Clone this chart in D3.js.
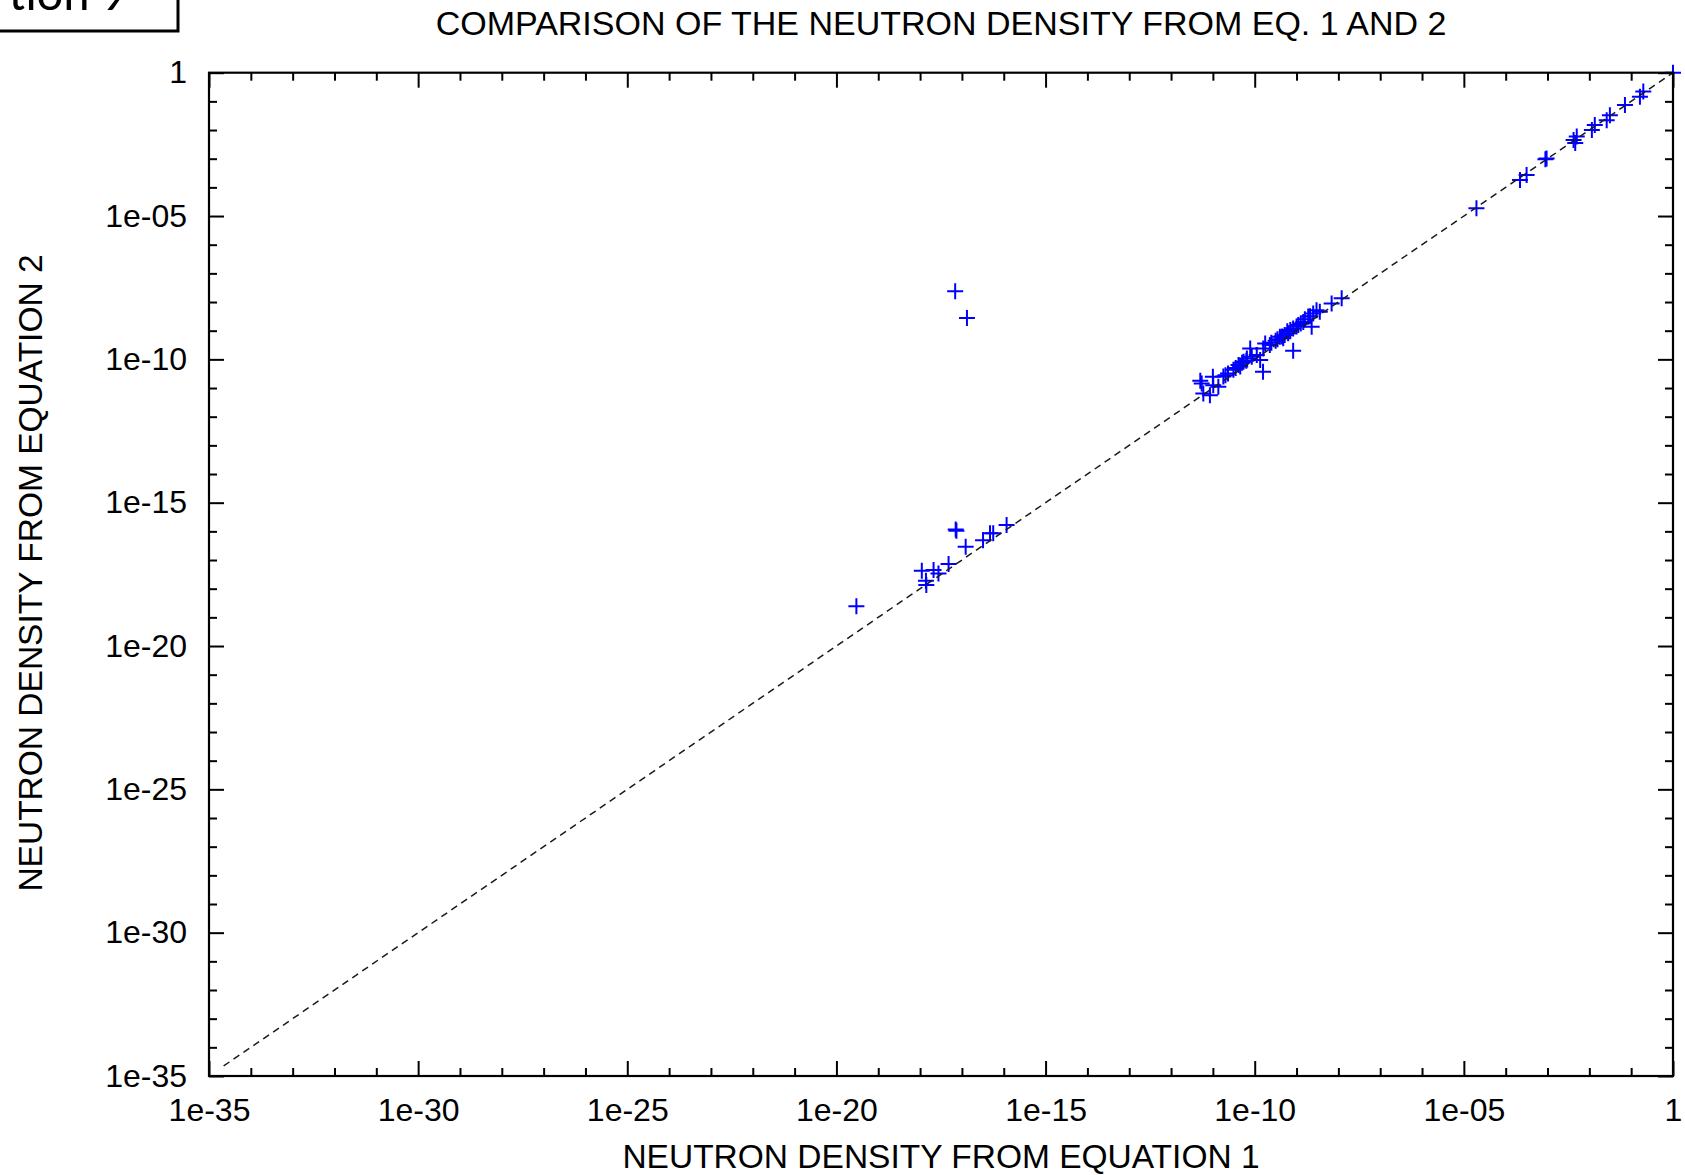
<!DOCTYPE html>
<html>
<head>
<meta charset="utf-8">
<script src="https://cdn.jsdelivr.net/npm/d3@7"></script>
<style>
  html, body { margin: 0; padding: 0; background: #fff; }
  svg { display: block; }
  text { font-family: "Liberation Sans", Arial, Helvetica, sans-serif; fill: #000; }
</style>
</head>
<body>
<svg id="chart" width="1685" height="1175"></svg>
<script>
// Neutron density computed from equation 1 (x) and equation 2 (y)
const neutronDensityEq1 = [
  // high-density group
  1, 1.95e-1, 1.62e-1, 7.1e-2, 3.1e-2, 2.6e-2, 1.35e-2, 1.15e-2, 5.0e-3, 4.2e-3, 4.6e-3,
  9.5e-4, 8.9e-4, 3.16e-4, 2.2e-4, 2.0e-5,
  // main cluster
  5.4e-12, 1.0e-11, 5.9e-12, 8.5e-12, 1.02e-11, 1.35e-11, 2.3e-11, 3.1e-11, 4.1e-11, 5.4e-11,
  6.5e-11, 7.8e-11, 8.5e-11, 1.12e-10, 1.35e-10, 1.58e-10, 1.78e-10, 1.6e-10, 2.3e-10, 4.0e-10,
  5.2e-10, 6.3e-10, 8.3e-10, 4.8e-10, 8.3e-10, 1.1e-9, 1.45e-9, 2.3e-9, 1.9e-9, 2.5e-9,
  3.0e-9, 3.6e-9, 6.9e-9, 1.2e-8, 1.78e-11, 2.0e-11, 3.5e-11, 4.5e-11, 5.0e-11, 6.3e-11,
  3.16e-10, 4.5e-10, 6.0e-10, 7.1e-10, 1.0e-9, 1.26e-9, 1.58e-9, 2.1e-9, 3.5e-10, 2.5e-10,
  5.0e-12,
  // low-density group
  3.0e-20, 7.1e-18, 7.4e-18, 1.23e-17, 1.1e-18, 1.38e-18, 1.41e-18, 2.1e-18, 2.75e-18, 4.8e-18,
  3.2e-17, 4.7e-17, 5.6e-17, 1.17e-16,
  // outliers
  6.9e-18, 1.32e-17
];
const neutronDensityEq2 = [
  1, 2.2e-1, 1.45e-1, 7.4e-2, 3.3e-2, 2.2e-2, 1.5e-2, 1.0e-2, 5.9e-3, 4.5e-3, 3.5e-3,
  1.02e-3, 9.5e-4, 2.7e-4, 1.8e-4, 1.86e-5,
  1.45e-11, 2.45e-11, 6.5e-12, 5.6e-12, 1.26e-11, 1.1e-11, 3.2e-11, 4.3e-11, 6.3e-11, 8.3e-11,
  1.07e-10, 2.4e-10, 1.23e-10, 1.41e-10, 9.5e-11, 3.7e-11, 3.6e-10, 2.4e-10, 3.16e-10, 6.2e-10,
  7.1e-10, 8.1e-10, 2.0e-10, 5.4e-10, 1.2e-9, 1.58e-9, 2.0e-9, 1.38e-9, 3.1e-9, 4.0e-9,
  5.2e-9, 4.6e-9, 8.9e-9, 1.35e-8, 2.5e-11, 2.8e-11, 5.0e-11, 5.6e-11, 7.6e-11, 8.9e-11,
  4.5e-10, 6.3e-10, 9.5e-10, 1.05e-9, 1.41e-9, 1.78e-9, 2.5e-9, 3.16e-9, 5.0e-10, 3.8e-10,
  1.8e-11,
  2.45e-19, 1.17e-16, 1.05e-16, 2.9e-17, 4.2e-18, 1.9e-18, 1.35e-18, 4.5e-18, 3.4e-18, 7.2e-18,
  4.9e-17, 8.5e-17, 8.5e-17, 1.66e-16,
  2.4e-8, 2.75e-9
];

// Axis range, tick positions and labels (identical on both axes)
const axisDomain = [1e-35, 1];
const majorTicks = [1e-35, 1e-30, 1e-25, 1e-20, 1e-15, 1e-10, 1e-5, 1];
const majorTickLabels = ["1e-35", "1e-30", "1e-25", "1e-20", "1e-15", "1e-10", "1e-05", "1"];
const minorTicks = [
  1e-34, 1e-33, 1e-32, 1e-31, 1e-29, 1e-28, 1e-27, 1e-26, 1e-24, 1e-23, 1e-22, 1e-21,
  1e-19, 1e-18, 1e-17, 1e-16, 1e-14, 1e-13, 1e-12, 1e-11, 1e-9, 1e-8, 1e-7, 1e-6,
  1e-4, 1e-3, 1e-2, 1e-1
];
// y = x reference line end points
const identityLine = [2.24e-35, 1];

const titleText = "COMPARISON OF THE NEUTRON DENSITY FROM EQ. 1 AND 2";
const xLabelText = "NEUTRON DENSITY FROM EQUATION 1";
const yLabelText = "NEUTRON DENSITY FROM EQUATION 2";
const cornerTag = "tion 9";

const svg = d3.select("#chart");
const margin = { left: 209, top: 72.7, right: 1685 - 1673, bottom: 1175 - 1076 };
const width = 1685 - margin.left - margin.right;
const height = 1175 - margin.top - margin.bottom;

const x = d3.scaleLog().domain(axisDomain).range([0, width]);
const y = d3.scaleLog().domain(axisDomain).range([height, 0]);

// Tag box partially outside the page, top-left
svg.append("rect")
  .attr("x", -20).attr("y", -60).attr("width", 198).attr("height", 91)
  .attr("fill", "none").attr("stroke", "#000").attr("stroke-width", 3);
svg.append("text")
  .attr("x", 9).attr("y", 10)
  .style("font-family", "Carlito, Lato, 'Open Sans', sans-serif")
  .style("font-size", "50px")
  .text(cornerTag);

const g = svg.append("g").attr("transform", `translate(${margin.left},${margin.top})`);

// Data markers (+)
const arm = 8;
const data = neutronDensityEq1.map((v, i) => ({ x: v, y: neutronDensityEq2[i] }));
g.append("g")
  .selectAll("path")
  .data(data)
  .join("path")
  .attr("d", d => {
    const cx = x(d.x), cy = y(d.y);
    return `M${cx - arm},${cy}H${cx + arm}M${cx},${cy - arm}V${cy + arm}`;
  })
  .attr("stroke", "#0000ff")
  .attr("stroke-width", 2)
  .attr("fill", "none");

// Dashed y = x line
g.append("line")
  .attr("x1", x(identityLine[0])).attr("y1", y(identityLine[0]))
  .attr("x2", x(identityLine[1])).attr("y2", y(identityLine[1]))
  .attr("stroke", "#1a1a1a")
  .attr("stroke-width", 1.5)
  .attr("stroke-dasharray", "7,5");

// Axes: major + minor ticks pointing inward on all four sides
function styleAxis(sel) {
  sel.select(".domain").remove();
  sel.selectAll(".tick line").attr("stroke", "#000").attr("stroke-width", 2);
  sel.selectAll(".tick text").style("font-size", "32px").attr("fill", "#000");
}
const fmt = d => majorTickLabels[majorTicks.indexOf(d)];

g.append("g").attr("transform", `translate(0,${height})`)
  .call(d3.axisBottom(x).tickValues(majorTicks).tickFormat(fmt).tickSize(-15).tickPadding(22))
  .call(styleAxis);
g.append("g").attr("transform", `translate(0,${height})`)
  .call(d3.axisBottom(x).tickValues(minorTicks).tickFormat("").tickSize(-8))
  .call(styleAxis);
g.append("g")
  .call(d3.axisTop(x).tickValues(majorTicks).tickFormat("").tickSize(-15))
  .call(styleAxis);
g.append("g")
  .call(d3.axisTop(x).tickValues(minorTicks).tickFormat("").tickSize(-8))
  .call(styleAxis);

g.append("g")
  .call(d3.axisLeft(y).tickValues(majorTicks).tickFormat(fmt).tickSize(-15).tickPadding(22))
  .call(styleAxis);
g.append("g")
  .call(d3.axisLeft(y).tickValues(minorTicks).tickFormat("").tickSize(-8))
  .call(styleAxis);
g.append("g").attr("transform", `translate(${width},0)`)
  .call(d3.axisRight(y).tickValues(majorTicks).tickFormat("").tickSize(-15))
  .call(styleAxis);
g.append("g").attr("transform", `translate(${width},0)`)
  .call(d3.axisRight(y).tickValues(minorTicks).tickFormat("").tickSize(-8))
  .call(styleAxis);

// Plot border
g.append("rect")
  .attr("width", width).attr("height", height)
  .attr("fill", "none").attr("stroke", "#000").attr("stroke-width", 2.2);

// Title and axis labels
svg.append("text")
  .attr("x", margin.left + width / 2).attr("y", 35)
  .attr("text-anchor", "middle").style("font-size", "34px")
  .text(titleText);
svg.append("text")
  .attr("x", margin.left + width / 2).attr("y", 1168)
  .attr("text-anchor", "middle").style("font-size", "33.5px")
  .text(xLabelText);
svg.append("text")
  .attr("transform", `translate(42,573) rotate(-90)`)
  .attr("text-anchor", "middle").style("font-size", "33.5px")
  .text(yLabelText);
</script>
</body>
</html>
